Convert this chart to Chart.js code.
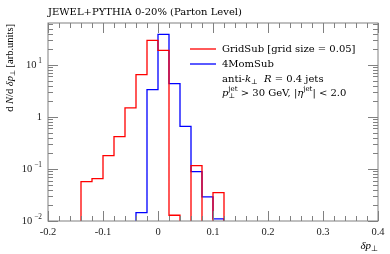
<!DOCTYPE html>
<html lang="en">

<head>
    <meta charset="UTF-8" />
    <title>JEWEL+PYTHIA - delta pT</title>
    <script src="https://cdn.jsdelivr.net/npm/chart.js"></script>
    <style>
        html, body { margin: 0; padding: 0; background: #fff; }
        #wrap { width: 390px; height: 254px; }
    </style>
</head>

<body>
    <div id="wrap"><canvas id="grafica" width="390" height="254"></canvas></div>

    <script>
        // Histogram bin edges and contents
        const gridSubEdges = [-0.14, -0.12, -0.10, -0.08, -0.06, -0.04, -0.02, 0, 0.02, 0.04, 0.06, 0.08, 0.10, 0.12];
        const gridSubValues = [0.057, 0.065, 0.18, 0.42, 1.49, 6.5, 29.7, 19.1, 0.0129, 0, 0.116, 0, 0.035];
        const momSubEdges = [-0.04, -0.02, 0, 0.02, 0.04, 0.06, 0.08, 0.10, 0.12];
        const momSubValues = [0.0145, 3.35, 38.8, 4.37, 0.66, 0.089, 0.029, 0.011];

        // Axis ticks
        const xTickLabels = ['-0.2', '-0.1', '0', '0.1', '0.2', '0.3', '0.4'];
        const yTickValues = [0.01, 0.1, 1, 10];
        const yTickLabels = [['10', '\u22122'], ['10', '\u22121'], ['1', ''], ['10', '1']];

        const FONT = '"Liberation Serif", serif';
        const WIDE = '"DejaVu Serif", serif';

        // turn bin contents into a closed step outline
        function steps(edges, vals) {
            const floor = 1e-3; // empty bins go below the axis
            const pts = [{ x: edges[0], y: floor }];
            vals.forEach((v, i) => pts.push({ x: edges[i], y: v > 0 ? v : floor }));
            const last = edges[edges.length - 1];
            pts.push({ x: last, y: vals[vals.length - 1] || floor });
            pts.push({ x: last, y: floor });
            return pts;
        }

        // mixed text: [text, italic?, shift('sub'|'sup'|'both'|null), sub text for 'both']
        function richText(ctx, parts, x, y, size, fam, draw = true) {
            let cx = x;
            parts.forEach(([t, it, sh, t2]) => {
                const s = sh ? size * 0.7 : size;
                ctx.font = (it ? 'italic ' : '') + s + 'px ' + fam;
                if (sh === 'both') {
                    if (draw) {
                        ctx.fillText(t, cx, y - size * 0.4);
                        ctx.fillText(t2, cx, y + size * 0.3);
                    }
                    cx += Math.max(ctx.measureText(t).width, ctx.measureText(t2).width);
                    return;
                }
                const dy = sh === 'sub' ? size * 0.3 : sh === 'sup' ? -size * 0.4 : 0;
                if (draw) ctx.fillText(t, cx, y + dy);
                cx += ctx.measureText(t).width;
            });
            return cx - x;
        }
        const richWidth = (ctx, parts, size, fam) => richText(ctx, parts, 0, 0, size, fam, false);

        const frameAndText = {
            id: 'frameAndText',
            afterDatasetsDraw(chart) {
                const { ctx, chartArea: a, scales: { x, y } } = chart;
                ctx.save();
                ctx.strokeStyle = '#808080';
                ctx.lineWidth = 1;
                ctx.strokeRect(a.left, a.top, a.right - a.left, a.bottom - a.top);

                // x ticks, inside the frame
                ctx.beginPath();
                for (let i = 0; i <= 30; i++) {
                    const v = -0.2 + i * 0.02;
                    const px = Math.round(x.getPixelForValue(v)) + 0.5;
                    const len = i % 5 === 0 ? 10 : 5;
                    ctx.moveTo(px, a.bottom); ctx.lineTo(px, a.bottom - len);
                    ctx.moveTo(px, a.top); ctx.lineTo(px, a.top + len);
                }
                // y ticks (log)
                for (let d = -2; d <= 1; d++) {
                    for (let m = 1; m <= 9; m++) {
                        const v = m * Math.pow(10, d);
                        if (v > y.max) break;
                        const py = Math.round(y.getPixelForValue(v)) + 0.5;
                        const len = m === 1 ? 10 : 5;
                        ctx.moveTo(a.left, py); ctx.lineTo(a.left + len, py);
                        ctx.moveTo(a.right, py); ctx.lineTo(a.right - len, py);
                    }
                }
                ctx.stroke();

                ctx.fillStyle = '#222';
                ctx.textBaseline = 'middle';
                // x tick labels
                ctx.font = '10.5px ' + FONT;
                ctx.textAlign = 'center';
                xTickLabels.forEach(t => {
                    ctx.fillText(t, x.getPixelForValue(parseFloat(t)), a.bottom + 11);
                });
                // y tick labels
                ctx.textAlign = 'left';
                yTickValues.forEach((v, i) => {
                    const [base, exp] = yTickLabels[i];
                    const parts = [[base, false, null]];
                    if (exp) parts.push([' ' + exp, false, 'sup']);
                    const w = richWidth(ctx, parts, 10.5, FONT);
                    richText(ctx, parts, a.left - 6 - w, y.getPixelForValue(v), 10.5, FONT);
                });

                // title
                ctx.font = '10px ' + WIDE;
                ctx.fillStyle = '#000';
                ctx.fillText('JEWEL+PYTHIA 0-20% (Parton Level)', a.left, 12);

                // x axis label
                const xl = [['\u03B4p', true, null], ['\u22A5', false, 'sub']];
                richText(ctx, xl, a.right - richWidth(ctx, xl, 11, FONT), a.bottom + 25, 11, FONT);

                // y axis label, rotated
                const yl = [['d ', false, null], ['N', true, null], ['/d ', false, null], ['\u03B4p', true, null],
                    ['\u22A5', false, 'sub'], [' [arb.units]', false, null]];
                ctx.save();
                ctx.translate(10, a.top + 1);
                ctx.rotate(-Math.PI / 2);
                richText(ctx, yl, -richWidth(ctx, yl, 10.5, FONT), 0, 10.5, FONT);
                ctx.restore();

                // legend
                const lx = 190, ly = 49;
                [['#ff0000', 'GridSub [grid size = 0.05]'], ['#0000ff', '4MomSub']].forEach(([c, t], i) => {
                    ctx.strokeStyle = c;
                    ctx.lineWidth = 1.3;
                    ctx.beginPath();
                    ctx.moveTo(lx, ly + i * 15); ctx.lineTo(lx + 26, ly + i * 15);
                    ctx.stroke();
                    ctx.font = '10px ' + WIDE;
                    ctx.fillText(t, lx + 32, ly + i * 15);
                });
                richText(ctx, [['anti-', false, null], ['k', true, null], ['\u22A5', false, 'sub'], ['  ', false, null],
                    ['R', true, null], [' = 0.4 jets', false, null]], lx + 32, ly + 30, 10, WIDE);
                richText(ctx, [['p', true, null], ['jet', false, 'both', '\u22A5'], [' > 30 GeV, |', false, null],
                    ['\u03B7', true, null], ['jet', false, 'sup'], ['| < 2.0', false, null]], lx + 32, ly + 44, 10, WIDE);
                ctx.restore();
            }
        };

        new Chart(document.getElementById('grafica'), {
            type: 'line',
            data: {
                datasets: [{
                    label: 'GridSub [grid size = 0.05]',
                    data: steps(gridSubEdges, gridSubValues),
                    borderColor: '#ff0000',
                    borderWidth: 1.3,
                    stepped: true,
                    pointRadius: 0,
                    fill: false,
                    clip: 0
                }, {
                    label: '4MomSub',
                    data: steps(momSubEdges, momSubValues),
                    borderColor: '#0000ff',
                    borderWidth: 1.3,
                    stepped: true,
                    pointRadius: 0,
                    fill: false,
                    clip: 0
                }]
            },
            options: {
                responsive: false,
                animation: false,
                layout: { padding: { top: 23, right: 12, left: 0, bottom: 0 } },
                plugins: { legend: { display: false }, tooltip: { enabled: false } },
                scales: {
                    x: {
                        type: 'linear', min: -0.2, max: 0.4,
                        grid: { display: false }, border: { display: false },
                        ticks: { display: false },
                        afterFit: s => { s.height = 33; }
                    },
                    y: {
                        type: 'logarithmic', min: 0.01, max: 64,
                        grid: { display: false }, border: { display: false },
                        ticks: { display: false },
                        afterFit: s => { s.width = 48; }
                    }
                }
            },
            plugins: [frameAndText]
        });
    </script>
</body>

</html>
